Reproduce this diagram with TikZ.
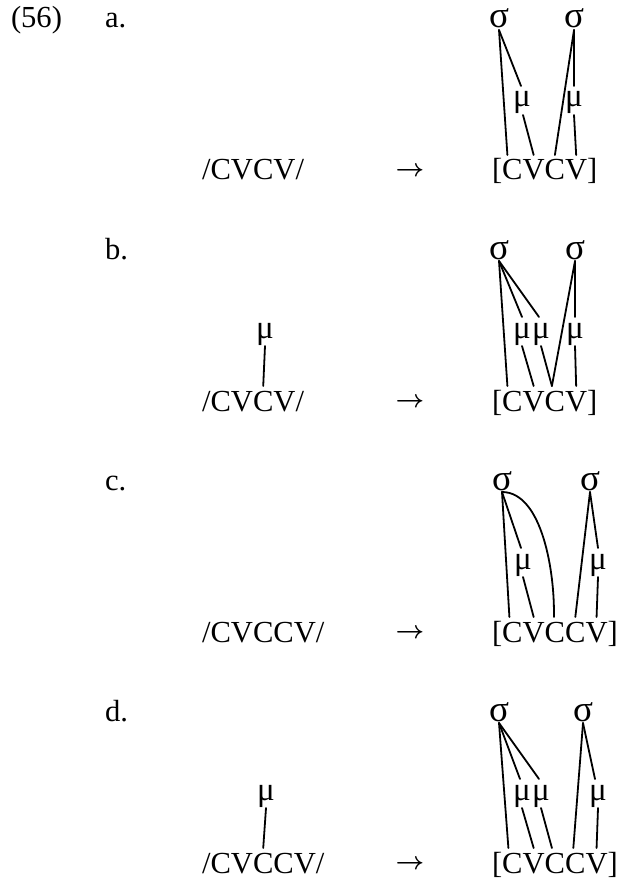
\documentclass[tikz,border=0pt]{standalone}
\usepackage{fontspec}
\setmainfont{Liberation Serif}
\tikzset{
  txt/.style={inner sep=0pt, outer sep=0pt, font=\fontsize{30.6}{36}\selectfont},
  seg/.style={txt, anchor=base west},
  sym/.style={txt, anchor=base, font=\fontsize{33}{38}\selectfont},
  syl/.style={txt, anchor=base, font=\fontsize{37}{42}\selectfont},
  arrowglyph/.style={inner sep=0pt, outer sep=0pt, anchor=center, font=\fontsize{27}{30}\selectfont\boldmath},
  assoc/.style={line width=1.8pt, line cap=round},
}
\begin{document}
\begin{tikzpicture}[x=1pt,y=-1pt]
\useasboundingbox (0,0) rectangle (621,882);
\node[seg] (ex) at (11,28) {(56)};

% ---------------- a ----------------
\begin{scope}[shift={(0,180)}]
\node[seg] (a-lab) at (105,-152) {a.};
\node[seg] (a-in) at (202,0) {/CVCV/};
\node[arrowglyph] (a-arr) at (410,-8) {$\rightarrow$};
\node[seg] (a-lb) at (492,0) {[};
\node[seg] (a-C1) at (a-lb.base east) {C};
\node[seg] (a-V1) at (a-C1.base east) {V};
\node[seg] (a-C2) at (a-V1.base east) {C};
\node[seg] (a-V2) at (a-C2.base east) {V};
\node[seg] (a-rb) at (a-V2.base east) {]};
\node[syl] (a-s1) at (499,-152) {σ};
\node[syl] (a-s2) at (574,-152) {σ};
\node[sym] (a-m1) at (522,-73) {μ};
\node[sym] (a-m2) at (574,-73) {μ};
\draw[assoc] ([yshift=-2pt]a-s1.base) -- ([xshift=-5pt,yshift=25pt]a-C1.base);
\draw[assoc] ([yshift=-2pt]a-s1.base) -- ([xshift=-1pt,yshift=21pt]a-m1.base);
\draw[assoc] ([xshift=1pt,yshift=-8pt]a-m1.base) -- ([yshift=25pt]a-V1.base);
\draw[assoc] ([yshift=-2pt]a-s2.base) -- ([yshift=25pt]a-C2.base);
\draw[assoc] ([yshift=-2pt]a-s2.base) -- ([yshift=21pt]a-m2.base);
\draw[assoc] ([yshift=-8pt]a-m2.base) -- ([yshift=25pt]a-V2.base);
\end{scope}

% ---------------- b ----------------
\begin{scope}[shift={(0,411)}]
\node[seg] (b-lab) at (105,-152) {b.};
\node[seg] (b-ilb) at (202,0) {/};
\node[seg] (b-iC1) at (b-ilb.base east) {C};
\node[seg] (b-iV1) at (b-iC1.base east) {V};
\node[seg] (b-iC2) at (b-iV1.base east) {C};
\node[seg] (b-iV2) at (b-iC2.base east) {V};
\node[seg] (b-irb) at (b-iV2.base east) {/};
\node[sym] (b-im) at (265,-73) {μ};
\draw[assoc] ([yshift=-8pt]b-im.base) -- ([yshift=25pt]b-iC2.base);
\node[arrowglyph] (b-arr) at (410,-8) {$\rightarrow$};
\node[seg] (b-lb) at (492,0) {[};
\node[seg] (b-C1) at (b-lb.base east) {C};
\node[seg] (b-V1) at (b-C1.base east) {V};
\node[seg] (b-C2) at (b-V1.base east) {C};
\node[seg] (b-V2) at (b-C2.base east) {V};
\node[seg] (b-rb) at (b-V2.base east) {]};
\node[syl] (b-s1) at (499,-152) {σ};
\node[syl] (b-s2) at (575,-152) {σ};
\node[sym] (b-m1) at (522,-73) {μ};
\node[sym] (b-m2) at (541,-73) {μ};
\node[sym] (b-m3) at (575,-73) {μ};
\draw[assoc] ([yshift=-2pt]b-s1.base) -- ([xshift=-5pt,yshift=25pt]b-C1.base);
\draw[assoc] ([yshift=-2pt]b-s1.base) -- ([yshift=21pt]b-m1.base);
\draw[assoc] ([yshift=-2pt]b-s1.base) -- ([xshift=-2pt,yshift=21pt]b-m2.base);
\draw[assoc] ([yshift=-8pt]b-m1.base) -- ([yshift=25pt]b-V1.base);
\draw[assoc] ([yshift=-8pt]b-m2.base) -- ([xshift=-3pt,yshift=25pt]b-C2.base);
\draw[assoc] ([yshift=-2pt]b-s2.base) -- ([xshift=-3pt,yshift=25pt]b-C2.base);
\draw[assoc] ([yshift=-2pt]b-s2.base) -- ([yshift=21pt]b-m3.base);
\draw[assoc] ([yshift=-8pt]b-m3.base) -- ([yshift=25pt]b-V2.base);
\end{scope}

% ---------------- c ----------------
\begin{scope}[shift={(0,642)}]
\node[seg] (c-lab) at (105,-152) {c.};
\node[seg] (c-in) at (202,0) {/CVCCV/};
\node[arrowglyph] (c-arr) at (410,-8) {$\rightarrow$};
\node[seg] (c-lb) at (492,0) {[};
\node[seg] (c-C1) at (c-lb.base east) {C};
\node[seg] (c-V1) at (c-C1.base east) {V};
\node[seg] (c-C2) at (c-V1.base east) {C};
\node[seg] (c-C3) at (c-C2.base east) {C};
\node[seg] (c-V2) at (c-C3.base east) {V};
\node[seg] (c-rb) at (c-V2.base east) {]};
\node[syl] (c-s1) at (502,-152) {σ};
\node[syl] (c-s2) at (590,-152) {σ};
\node[sym] (c-m1) at (523,-73) {μ};
\node[sym] (c-m2) at (598,-73) {μ};
\draw[assoc] ([yshift=-2pt]c-s1.base) -- ([xshift=-3pt,yshift=25pt]c-C1.base);
\draw[assoc] ([yshift=-2pt]c-s1.base) -- ([xshift=-2pt,yshift=21pt]c-m1.base);
\draw[assoc] ([yshift=-8pt]c-m1.base) -- ([yshift=25pt]c-V1.base);
\draw[assoc] ([yshift=-2pt]c-s1.base) .. controls ([xshift=40pt,yshift=-2pt]c-s1.base) and ([yshift=70pt]c-C2.base) .. ([xshift=-1pt,yshift=25pt]c-C2.base);
\draw[assoc] ([yshift=-2pt]c-s2.base) -- ([yshift=25pt]c-C3.base);
\draw[assoc] ([yshift=-2pt]c-s2.base) -- ([yshift=21pt]c-m2.base);
\draw[assoc] ([yshift=-8pt]c-m2.base) -- ([yshift=25pt]c-V2.base);
\end{scope}

% ---------------- d ----------------
\begin{scope}[shift={(0,873)}]
\node[seg] (d-lab) at (105,-152) {d.};
\node[seg] (d-ilb) at (202,0) {/};
\node[seg] (d-iC1) at (d-ilb.base east) {C};
\node[seg] (d-iV1) at (d-iC1.base east) {V};
\node[seg] (d-iC2) at (d-iV1.base east) {C};
\node[seg] (d-iC3) at (d-iC2.base east) {C};
\node[seg] (d-iV2) at (d-iC3.base east) {V};
\node[seg] (d-irb) at (d-iV2.base east) {/};
\node[sym] (d-im) at (266,-73) {μ};
\draw[assoc] ([yshift=-8pt]d-im.base) -- ([yshift=25pt]d-iC2.base);
\node[arrowglyph] (d-arr) at (410,-8) {$\rightarrow$};
\node[seg] (d-lb) at (492,0) {[};
\node[seg] (d-C1) at (d-lb.base east) {C};
\node[seg] (d-V1) at (d-C1.base east) {V};
\node[seg] (d-C2) at (d-V1.base east) {C};
\node[seg] (d-C3) at (d-C2.base east) {C};
\node[seg] (d-V2) at (d-C3.base east) {V};
\node[seg] (d-rb) at (d-V2.base east) {]};
\node[syl] (d-s1) at (499,-152) {σ};
\node[syl] (d-s2) at (583,-152) {σ};
\node[sym] (d-m1) at (522,-73) {μ};
\node[sym] (d-m2) at (541,-73) {μ};
\node[sym] (d-m3) at (598,-73) {μ};
\draw[assoc] ([yshift=-2pt]d-s1.base) -- ([xshift=-4pt,yshift=25pt]d-C1.base);
\draw[assoc] ([yshift=-2pt]d-s1.base) -- ([xshift=-2pt,yshift=21pt]d-m1.base);
\draw[assoc] ([yshift=-2pt]d-s1.base) -- ([xshift=-2pt,yshift=21pt]d-m2.base);
\draw[assoc] ([yshift=-8pt]d-m1.base) -- ([yshift=25pt]d-V1.base);
\draw[assoc] ([yshift=-8pt]d-m2.base) -- ([xshift=-3pt,yshift=25pt]d-C2.base);
\draw[assoc] ([yshift=-2pt]d-s2.base) -- ([xshift=-2pt,yshift=25pt]d-C3.base);
\draw[assoc] ([yshift=-2pt]d-s2.base) -- ([xshift=-3pt,yshift=21pt]d-m3.base);
\draw[assoc] ([yshift=-8pt]d-m3.base) -- ([yshift=25pt]d-V2.base);
\end{scope}
\end{tikzpicture}
\end{document}
